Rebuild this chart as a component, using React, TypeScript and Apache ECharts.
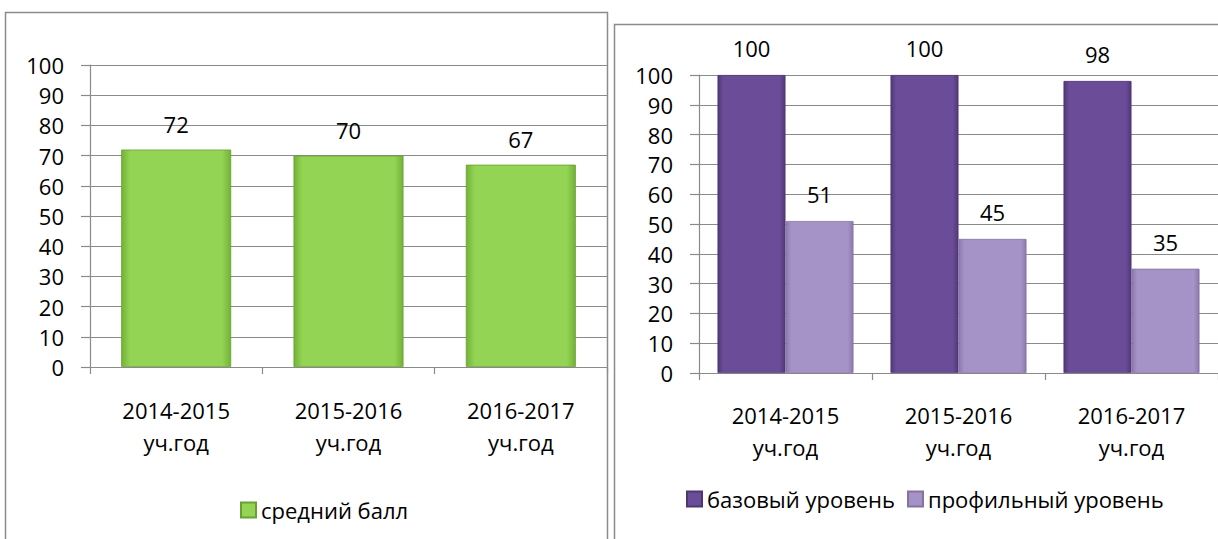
import React, { useEffect, useRef } from "react";
import * as echarts from "echarts";

const categories = ["2014-2015\nуч.год", "2015-2016\nуч.год", "2016-2017\nуч.год"];
const avgScore = [72, 70, 67];
const baseLevel = [100, 100, 98];
const profileLevel = [51, 45, 35];
const yTicks = { min: 0, max: 100, interval: 10 };

const FONT = "Open Sans";
const FS = 22;
const GRID_COLOR = "#8a8a8a";

function hGrad(edge: string, mid: string) {
  return new echarts.graphic.LinearGradient(0, 0, 1, 0, [
    { offset: 0, color: edge },
    { offset: 0.08, color: mid },
    { offset: 0.92, color: mid },
    { offset: 1, color: edge },
  ]);
}

export default function App() {
  const ref = useRef<HTMLDivElement>(null);
  useEffect(() => {
    if (!ref.current) return;
    const chart = echarts.init(ref.current, undefined, { renderer: "svg" });
    const yAxisBase = (gridIndex: number, margin: number) => ({
      type: "value" as const,
      gridIndex,
      min: yTicks.min,
      max: yTicks.max,
      interval: yTicks.interval,
      axisLine: { show: true, lineStyle: { color: GRID_COLOR, width: 1.2 } },
      axisTick: { show: true, length: 9, lineStyle: { color: GRID_COLOR, width: 1.2 } },
      splitLine: { show: true, lineStyle: { color: GRID_COLOR, width: 1.2 } },
      axisLabel: { margin, color: "#000", fontFamily: FONT, fontSize: FS },
    });
    const xAxisBase = (gridIndex: number, margin: number) => ({
      type: "category" as const,
      gridIndex,
      data: categories,
      axisLine: { show: true, lineStyle: { color: GRID_COLOR, width: 1.2 } },
      axisTick: { show: true, length: 7, lineStyle: { color: GRID_COLOR, width: 1.2 } },
      axisLabel: {
        margin,
        color: "#000",
        fontFamily: FONT,
        fontSize: FS,
        lineHeight: 32,
        interval: 0,
      },
    });
    const labelStyle = (distance: number) => ({
      show: true,
      position: "top" as const,
      distance,
      color: "#000",
      fontFamily: FONT,
      fontSize: FS,
    });
    chart.setOption({
      animation: false,
      backgroundColor: "#fff",
      graphic: [
        {
          type: "rect",
          shape: { x: 5.5, y: 12.5, width: 602, height: 540 },
          style: { fill: "none", stroke: "#8c8c8c", lineWidth: 1.5 },
          z: 100,
        },
        {
          type: "rect",
          shape: { x: 614.5, y: 24.5, width: 620, height: 540 },
          style: { fill: "none", stroke: "#8c8c8c", lineWidth: 1.5 },
          z: 100,
        },
      ],
      grid: [
        { left: 90, right: 611, top: 65, bottom: 172 },
        { left: 699, right: -9, top: 75, bottom: 166 },
      ],
      xAxis: [xAxisBase(0, 27), xAxisBase(1, 26)],
      yAxis: [yAxisBase(0, 26), yAxisBase(1, 26)],
      legend: [
        {
          data: ["средний балл"],
          left: 235,
          top: 494,
          itemWidth: 15,
          itemHeight: 15,
          icon: "rect",
          textStyle: { fontFamily: FONT, fontSize: FS, color: "#000" },
        },
        {
          data: ["базовый уровень", "профильный уровень"],
          left: 681,
          top: 483,
          itemWidth: 15,
          itemHeight: 15,
          itemGap: 12,
          icon: "rect",
          textStyle: { fontFamily: FONT, fontSize: FS, color: "#000" },
        },
      ],
      series: [
        {
          name: "средний балл",
          type: "bar",
          xAxisIndex: 0,
          yAxisIndex: 0,
          data: avgScore,
          barWidth: 110,
          itemStyle: { color: hGrad("#72b236", "#94d455"), borderColor: "#6aa033", borderWidth: 0.8 },
          label: labelStyle(15),
        },
        {
          name: "базовый уровень",
          type: "bar",
          xAxisIndex: 1,
          yAxisIndex: 1,
          data: baseLevel,
          barWidth: 68,
          barGap: "0%",
          itemStyle: { color: hGrad("#523878", "#6a4c98"), borderColor: "#4e3672", borderWidth: 0.8 },
          label: labelStyle(16),
        },
        {
          name: "профильный уровень",
          type: "bar",
          xAxisIndex: 1,
          yAxisIndex: 1,
          data: profileLevel,
          barWidth: 68,
          barGap: "0%",
          itemStyle: { color: hGrad("#8c79ad", "#a592c6"), borderColor: "#86739f", borderWidth: 0.8 },
          label: labelStyle(16),
        },
      ],
    });
    return () => chart.dispose();
  }, []);
  return (
    <div
      ref={ref}
      style={{ position: "fixed", left: 0, top: 0, width: 1218, height: 539 }}
    />
  );
}
